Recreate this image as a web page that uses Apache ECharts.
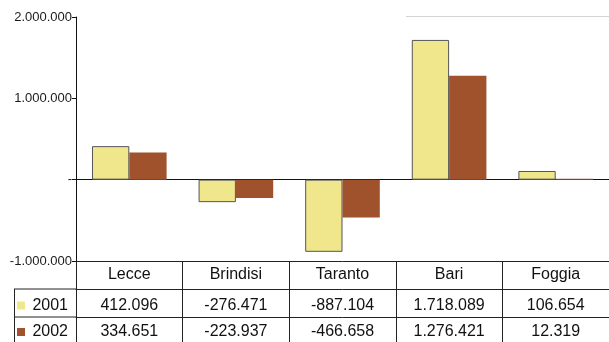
<!DOCTYPE html>
<html>
<head>
<meta charset="utf-8">
<script src="https://cdn.jsdelivr.net/npm/echarts@6/dist/echarts.min.js"></script>
<style>
  html, body { margin: 0; padding: 0; background: #fff; }
  #chart { width: 609px; height: 342px; }
</style>
</head>
<body>
<div id="chart"></div>
<script>
// Province names and yearly balances
const categories = ['Lecce', 'Brindisi', 'Taranto', 'Bari', 'Foggia'];
const values2001 = [412096, -276471, -887104, 1718089, 106654];
const values2002 = [334651, -223937, -466658, 1276421, 12319];
const seriesNames = ['2001', '2002'];
const yTicks = [-1000000, 0, 1000000, 2000000];

const COLOR_2001 = '#F0E68C';
const COLOR_2002 = '#A0522D';
const FONT = 'Liberation Sans, Arial, sans-serif';

// Italian thousands separator: 1718089 -> "1.718.089"
function fmt(n) {
  const s = Math.abs(n).toString().replace(/\B(?=(\d{3})+(?!\d))/g, '.');
  return (n < 0 ? '-' : '') + s;
}

const chart = echarts.init(document.getElementById('chart'), null, { renderer: 'canvas' });

const tableLabel = (margin, formatter) => ({
  show: true,
  interval: 0,
  margin: margin,
  verticalAlign: 'middle',
  color: '#111',
  fontFamily: FONT,
  fontSize: 16,
  formatter: formatter
});

const option = {
  backgroundColor: '#fff',
  animation: false,
  grid: { left: 76, right: -1, top: 17, bottom: 81, containLabel: false },
  xAxis: [
    {
      // zero line of the bar chart
      type: 'category', data: categories, gridIndex: 0,
      axisLine: { show: true, onZero: true, lineStyle: { color: '#111', width: 1 } },
      axisTick: { show: false }, axisLabel: { show: false }, splitLine: { show: false }
    },
    {
      // header row: province names, column dividers
      type: 'category', data: categories, position: 'bottom', offset: 0,
      axisLine: { show: true, onZero: false, lineStyle: { color: '#222', width: 1 } },
      axisTick: { show: true, interval: 0, length: 81, lineStyle: { color: '#222', width: 1 } },
      axisLabel: tableLabel(14, v => v)
    },
    {
      // 2001 row
      type: 'category', data: categories, position: 'bottom', offset: 28,
      axisLine: { show: true, onZero: false, lineStyle: { color: '#222', width: 1 } },
      axisTick: { show: false },
      axisLabel: tableLabel(16.5, (v, i) => fmt(values2001[i]))
    },
    {
      // 2002 row
      type: 'category', data: categories, position: 'bottom', offset: 56,
      axisLine: { show: true, onZero: false, lineStyle: { color: '#222', width: 1 } },
      axisTick: { show: false },
      axisLabel: tableLabel(15, (v, i) => fmt(values2002[i]))
    }
  ],
  yAxis: {
    type: 'value',
    min: yTicks[0], max: yTicks[yTicks.length - 1], interval: 1000000,
    axisLine: { show: true, lineStyle: { color: '#111', width: 1 } },
    axisTick: { show: true, length: 4, lineStyle: { color: '#111' } },
    splitLine: { show: false },
    axisLabel: {
      margin: 4, color: '#1a1a1a', fontFamily: FONT, fontSize: 13,
      formatter: v => (v === 0 ? '-' : fmt(v))
    }
  },
  series: [
    {
      name: seriesNames[0], type: 'bar', xAxisIndex: 0, data: values2001,
      barGap: '0%', barCategoryGap: '30%',
      itemStyle: { color: COLOR_2001, borderColor: '#555', borderWidth: 1 }
    },
    {
      name: seriesNames[1], type: 'bar', xAxisIndex: 0, data: values2002,
      barGap: '0%', barCategoryGap: '30%',
      itemStyle: { color: COLOR_2002, borderWidth: 0 }
    }
  ]
};

chart.setOption(option);

// Row header cells of the table (legend swatch + year)
function rowHeaders() {
  const rows = [
    { name: seriesNames[0], color: COLOR_2001, cy: 305.5 },
    { name: seriesNames[1], color: COLOR_2002, cy: 332 }
  ];
  const lineStyle = { stroke: '#222', lineWidth: 1 };
  const els = [
    { type: 'line', shape: { x1: 14, y1: 289, x2: 76, y2: 289 }, style: lineStyle },
    { type: 'line', shape: { x1: 14, y1: 317, x2: 76, y2: 317 }, style: lineStyle },
    { type: 'line', shape: { x1: 14.5, y1: 289, x2: 14.5, y2: 342 }, style: lineStyle },
    // faint rule above the right part of the plot
    { type: 'line', shape: { x1: 406, y1: 16.5, x2: 609, y2: 16.5 }, style: { stroke: '#d4d4d4', lineWidth: 1 } }
  ];
  rows.forEach(r => {
    els.push({ type: 'rect', shape: { x: 17, y: r.cy - 4, width: 8, height: 8 }, style: { fill: r.color } });
    els.push({
      type: 'text',
      style: { text: r.name, x: 68, y: r.cy, align: 'right', verticalAlign: 'middle',
               fill: '#111', font: '16px ' + FONT }
    });
  });
  return els;
}

chart.setOption({ graphic: rowHeaders() });
</script>
</body>
</html>
